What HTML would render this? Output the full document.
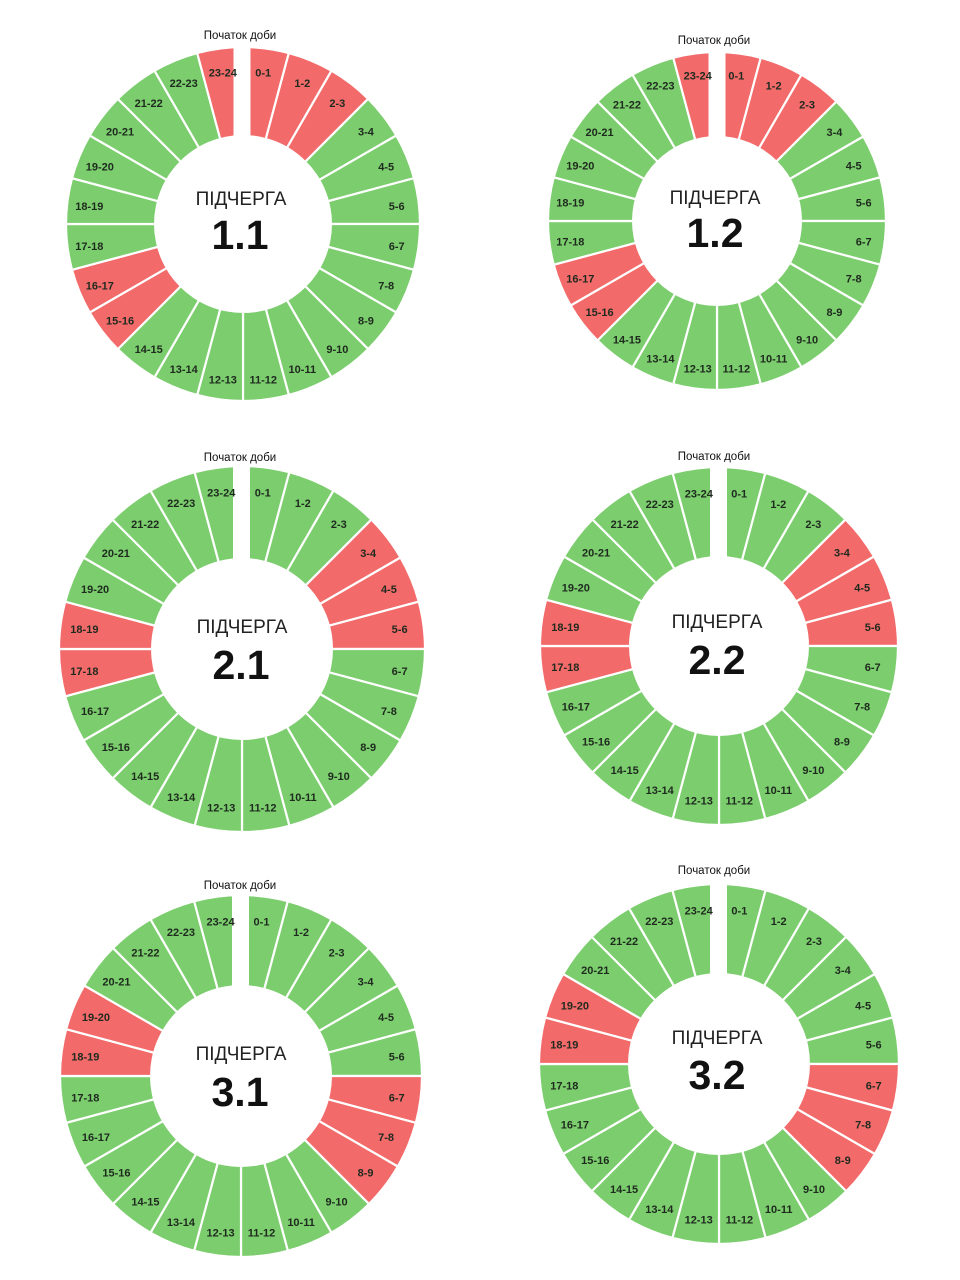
<!DOCTYPE html>
<html><head><meta charset="utf-8"><style>
html,body{margin:0;padding:0;background:#fff;width:960px;height:1280px;overflow:hidden}
svg{display:block}
.g{fill:#7bcd6d}.r{fill:#f26a6a}
use{stroke:#fff;stroke-width:2.2px}
.l{font-family:"Liberation Sans",sans-serif;font-size:11px;font-weight:bold;fill:#1f2a1f;text-anchor:middle;dominant-baseline:central}
.t{font-family:"Liberation Sans",sans-serif;font-size:11.5px;fill:#111;text-anchor:middle}
.p{font-family:"Liberation Sans",sans-serif;font-size:19px;fill:#222;text-anchor:middle}
.n{font-family:"Liberation Sans",sans-serif;font-size:41px;font-weight:bold;fill:#111;text-anchor:middle}
</style></head><body>
<svg width="960" height="1280" viewBox="0 0 960 1280" xmlns="http://www.w3.org/2000/svg">
<defs>
<path id="w" d="M0 0 L0 -1 A1 1 0 0 1 0.258819 -0.965926 Z" vector-effect="non-scaling-stroke"/>
</defs>

<!-- Chart 1.1 -->
<text class="t" x="240" y="39">Початок доби</text>
<g transform="translate(243,224)">
<g transform="scale(177)">
<use href="#w" class="r" transform="rotate(0)"/><use href="#w" class="r" transform="rotate(15)"/><use href="#w" class="r" transform="rotate(30)"/><use href="#w" class="g" transform="rotate(45)"/><use href="#w" class="g" transform="rotate(60)"/><use href="#w" class="g" transform="rotate(75)"/><use href="#w" class="g" transform="rotate(90)"/><use href="#w" class="g" transform="rotate(105)"/><use href="#w" class="g" transform="rotate(120)"/><use href="#w" class="g" transform="rotate(135)"/><use href="#w" class="g" transform="rotate(150)"/><use href="#w" class="g" transform="rotate(165)"/><use href="#w" class="g" transform="rotate(180)"/><use href="#w" class="g" transform="rotate(195)"/><use href="#w" class="g" transform="rotate(210)"/><use href="#w" class="r" transform="rotate(225)"/><use href="#w" class="r" transform="rotate(240)"/><use href="#w" class="g" transform="rotate(255)"/><use href="#w" class="g" transform="rotate(270)"/><use href="#w" class="g" transform="rotate(285)"/><use href="#w" class="g" transform="rotate(300)"/><use href="#w" class="g" transform="rotate(315)"/><use href="#w" class="g" transform="rotate(330)"/><use href="#w" class="r" transform="rotate(345)"/>
</g>
<circle r="89" fill="#fff"/><rect x="-9.5" y="-182" width="17" height="100" fill="#fff"/>
<g transform="translate(0,3)">
<text class="l" transform="rotate(7.5) translate(0,-155) rotate(-7.5)">0-1</text><text class="l" transform="rotate(22.5) translate(0,-155) rotate(-22.5)">1-2</text><text class="l" transform="rotate(37.5) translate(0,-155) rotate(-37.5)">2-3</text><text class="l" transform="rotate(52.5) translate(0,-155) rotate(-52.5)">3-4</text><text class="l" transform="rotate(67.5) translate(0,-155) rotate(-67.5)">4-5</text><text class="l" transform="rotate(82.5) translate(0,-155) rotate(-82.5)">5-6</text><text class="l" transform="rotate(97.5) translate(0,-155) rotate(-97.5)">6-7</text><text class="l" transform="rotate(112.5) translate(0,-155) rotate(-112.5)">7-8</text><text class="l" transform="rotate(127.5) translate(0,-155) rotate(-127.5)">8-9</text><text class="l" transform="rotate(142.5) translate(0,-155) rotate(-142.5)">9-10</text><text class="l" transform="rotate(157.5) translate(0,-155) rotate(-157.5)">10-11</text><text class="l" transform="rotate(172.5) translate(0,-155) rotate(-172.5)">11-12</text><text class="l" transform="rotate(187.5) translate(0,-155) rotate(-187.5)">12-13</text><text class="l" transform="rotate(202.5) translate(0,-155) rotate(-202.5)">13-14</text><text class="l" transform="rotate(217.5) translate(0,-155) rotate(-217.5)">14-15</text><text class="l" transform="rotate(232.5) translate(0,-155) rotate(-232.5)">15-16</text><text class="l" transform="rotate(247.5) translate(0,-155) rotate(-247.5)">16-17</text><text class="l" transform="rotate(262.5) translate(0,-155) rotate(-262.5)">17-18</text><text class="l" transform="rotate(277.5) translate(0,-155) rotate(-277.5)">18-19</text><text class="l" transform="rotate(292.5) translate(0,-155) rotate(-292.5)">19-20</text><text class="l" transform="rotate(307.5) translate(0,-155) rotate(-307.5)">20-21</text><text class="l" transform="rotate(322.5) translate(0,-155) rotate(-322.5)">21-22</text><text class="l" transform="rotate(337.5) translate(0,-155) rotate(-337.5)">22-23</text><text class="l" transform="rotate(352.5) translate(0,-155) rotate(-352.5)">23-24</text>
</g>
<text class="p" x="-2" y="-19">ПІДЧЕРГА</text><text class="n" x="-3" y="25">1.1</text>
</g>

<!-- Chart 1.2 -->
<text class="t" x="714" y="44">Початок доби</text>
<g transform="translate(717,221)">
<g transform="scale(169)">
<use href="#w" class="r" transform="rotate(0)"/><use href="#w" class="r" transform="rotate(15)"/><use href="#w" class="r" transform="rotate(30)"/><use href="#w" class="g" transform="rotate(45)"/><use href="#w" class="g" transform="rotate(60)"/><use href="#w" class="g" transform="rotate(75)"/><use href="#w" class="g" transform="rotate(90)"/><use href="#w" class="g" transform="rotate(105)"/><use href="#w" class="g" transform="rotate(120)"/><use href="#w" class="g" transform="rotate(135)"/><use href="#w" class="g" transform="rotate(150)"/><use href="#w" class="g" transform="rotate(165)"/><use href="#w" class="g" transform="rotate(180)"/><use href="#w" class="g" transform="rotate(195)"/><use href="#w" class="g" transform="rotate(210)"/><use href="#w" class="r" transform="rotate(225)"/><use href="#w" class="r" transform="rotate(240)"/><use href="#w" class="g" transform="rotate(255)"/><use href="#w" class="g" transform="rotate(270)"/><use href="#w" class="g" transform="rotate(285)"/><use href="#w" class="g" transform="rotate(300)"/><use href="#w" class="g" transform="rotate(315)"/><use href="#w" class="g" transform="rotate(330)"/><use href="#w" class="r" transform="rotate(345)"/>
</g>
<circle r="85" fill="#fff"/><rect x="-8.5" y="-175" width="17" height="95" fill="#fff"/>
<g transform="translate(0,2)">
<text class="l" transform="rotate(7.5) translate(0,-148) rotate(-7.5)">0-1</text><text class="l" transform="rotate(22.5) translate(0,-148) rotate(-22.5)">1-2</text><text class="l" transform="rotate(37.5) translate(0,-148) rotate(-37.5)">2-3</text><text class="l" transform="rotate(52.5) translate(0,-148) rotate(-52.5)">3-4</text><text class="l" transform="rotate(67.5) translate(0,-148) rotate(-67.5)">4-5</text><text class="l" transform="rotate(82.5) translate(0,-148) rotate(-82.5)">5-6</text><text class="l" transform="rotate(97.5) translate(0,-148) rotate(-97.5)">6-7</text><text class="l" transform="rotate(112.5) translate(0,-148) rotate(-112.5)">7-8</text><text class="l" transform="rotate(127.5) translate(0,-148) rotate(-127.5)">8-9</text><text class="l" transform="rotate(142.5) translate(0,-148) rotate(-142.5)">9-10</text><text class="l" transform="rotate(157.5) translate(0,-148) rotate(-157.5)">10-11</text><text class="l" transform="rotate(172.5) translate(0,-148) rotate(-172.5)">11-12</text><text class="l" transform="rotate(187.5) translate(0,-148) rotate(-187.5)">12-13</text><text class="l" transform="rotate(202.5) translate(0,-148) rotate(-202.5)">13-14</text><text class="l" transform="rotate(217.5) translate(0,-148) rotate(-217.5)">14-15</text><text class="l" transform="rotate(232.5) translate(0,-148) rotate(-232.5)">15-16</text><text class="l" transform="rotate(247.5) translate(0,-148) rotate(-247.5)">16-17</text><text class="l" transform="rotate(262.5) translate(0,-148) rotate(-262.5)">17-18</text><text class="l" transform="rotate(277.5) translate(0,-148) rotate(-277.5)">18-19</text><text class="l" transform="rotate(292.5) translate(0,-148) rotate(-292.5)">19-20</text><text class="l" transform="rotate(307.5) translate(0,-148) rotate(-307.5)">20-21</text><text class="l" transform="rotate(322.5) translate(0,-148) rotate(-322.5)">21-22</text><text class="l" transform="rotate(337.5) translate(0,-148) rotate(-337.5)">22-23</text><text class="l" transform="rotate(352.5) translate(0,-148) rotate(-352.5)">23-24</text>
</g>
<text class="p" x="-2" y="-17">ПІДЧЕРГА</text><text class="n" x="-2" y="26">1.2</text>
</g>

<!-- Chart 2.1 -->
<text class="t" x="240" y="461">Початок доби</text>
<g transform="translate(242,649)">
<g transform="scale(183)">
<use href="#w" class="g" transform="rotate(0)"/><use href="#w" class="g" transform="rotate(15)"/><use href="#w" class="g" transform="rotate(30)"/><use href="#w" class="r" transform="rotate(45)"/><use href="#w" class="r" transform="rotate(60)"/><use href="#w" class="r" transform="rotate(75)"/><use href="#w" class="g" transform="rotate(90)"/><use href="#w" class="g" transform="rotate(105)"/><use href="#w" class="g" transform="rotate(120)"/><use href="#w" class="g" transform="rotate(135)"/><use href="#w" class="g" transform="rotate(150)"/><use href="#w" class="g" transform="rotate(165)"/><use href="#w" class="g" transform="rotate(180)"/><use href="#w" class="g" transform="rotate(195)"/><use href="#w" class="g" transform="rotate(210)"/><use href="#w" class="g" transform="rotate(225)"/><use href="#w" class="g" transform="rotate(240)"/><use href="#w" class="r" transform="rotate(255)"/><use href="#w" class="r" transform="rotate(270)"/><use href="#w" class="g" transform="rotate(285)"/><use href="#w" class="g" transform="rotate(300)"/><use href="#w" class="g" transform="rotate(315)"/><use href="#w" class="g" transform="rotate(330)"/><use href="#w" class="g" transform="rotate(345)"/>
</g>
<circle r="91" fill="#fff"/><rect x="-9" y="-188" width="17" height="100" fill="#fff"/>
<g transform="translate(0,2)">
<text class="l" transform="rotate(7.5) translate(0,-159) rotate(-7.5)">0-1</text><text class="l" transform="rotate(22.5) translate(0,-159) rotate(-22.5)">1-2</text><text class="l" transform="rotate(37.5) translate(0,-159) rotate(-37.5)">2-3</text><text class="l" transform="rotate(52.5) translate(0,-159) rotate(-52.5)">3-4</text><text class="l" transform="rotate(67.5) translate(0,-159) rotate(-67.5)">4-5</text><text class="l" transform="rotate(82.5) translate(0,-159) rotate(-82.5)">5-6</text><text class="l" transform="rotate(97.5) translate(0,-159) rotate(-97.5)">6-7</text><text class="l" transform="rotate(112.5) translate(0,-159) rotate(-112.5)">7-8</text><text class="l" transform="rotate(127.5) translate(0,-159) rotate(-127.5)">8-9</text><text class="l" transform="rotate(142.5) translate(0,-159) rotate(-142.5)">9-10</text><text class="l" transform="rotate(157.5) translate(0,-159) rotate(-157.5)">10-11</text><text class="l" transform="rotate(172.5) translate(0,-159) rotate(-172.5)">11-12</text><text class="l" transform="rotate(187.5) translate(0,-159) rotate(-187.5)">12-13</text><text class="l" transform="rotate(202.5) translate(0,-159) rotate(-202.5)">13-14</text><text class="l" transform="rotate(217.5) translate(0,-159) rotate(-217.5)">14-15</text><text class="l" transform="rotate(232.5) translate(0,-159) rotate(-232.5)">15-16</text><text class="l" transform="rotate(247.5) translate(0,-159) rotate(-247.5)">16-17</text><text class="l" transform="rotate(262.5) translate(0,-159) rotate(-262.5)">17-18</text><text class="l" transform="rotate(277.5) translate(0,-159) rotate(-277.5)">18-19</text><text class="l" transform="rotate(292.5) translate(0,-159) rotate(-292.5)">19-20</text><text class="l" transform="rotate(307.5) translate(0,-159) rotate(-307.5)">20-21</text><text class="l" transform="rotate(322.5) translate(0,-159) rotate(-322.5)">21-22</text><text class="l" transform="rotate(337.5) translate(0,-159) rotate(-337.5)">22-23</text><text class="l" transform="rotate(352.5) translate(0,-159) rotate(-352.5)">23-24</text>
</g>
<text class="p" x="0" y="-16">ПІДЧЕРГА</text><text class="n" x="-1" y="30">2.1</text>
</g>

<!-- Chart 2.2 -->
<text class="t" x="714" y="460">Початок доби</text>
<g transform="translate(719,646)">
<g transform="scale(179)">
<use href="#w" class="g" transform="rotate(0)"/><use href="#w" class="g" transform="rotate(15)"/><use href="#w" class="g" transform="rotate(30)"/><use href="#w" class="r" transform="rotate(45)"/><use href="#w" class="r" transform="rotate(60)"/><use href="#w" class="r" transform="rotate(75)"/><use href="#w" class="g" transform="rotate(90)"/><use href="#w" class="g" transform="rotate(105)"/><use href="#w" class="g" transform="rotate(120)"/><use href="#w" class="g" transform="rotate(135)"/><use href="#w" class="g" transform="rotate(150)"/><use href="#w" class="g" transform="rotate(165)"/><use href="#w" class="g" transform="rotate(180)"/><use href="#w" class="g" transform="rotate(195)"/><use href="#w" class="g" transform="rotate(210)"/><use href="#w" class="g" transform="rotate(225)"/><use href="#w" class="g" transform="rotate(240)"/><use href="#w" class="r" transform="rotate(255)"/><use href="#w" class="r" transform="rotate(270)"/><use href="#w" class="g" transform="rotate(285)"/><use href="#w" class="g" transform="rotate(300)"/><use href="#w" class="g" transform="rotate(315)"/><use href="#w" class="g" transform="rotate(330)"/><use href="#w" class="g" transform="rotate(345)"/>
</g>
<circle r="90" fill="#fff"/><rect x="-9" y="-184" width="17" height="100" fill="#fff"/>
<g transform="translate(0,2)">
<text class="l" transform="rotate(7.5) translate(0,-155) rotate(-7.5)">0-1</text><text class="l" transform="rotate(22.5) translate(0,-155) rotate(-22.5)">1-2</text><text class="l" transform="rotate(37.5) translate(0,-155) rotate(-37.5)">2-3</text><text class="l" transform="rotate(52.5) translate(0,-155) rotate(-52.5)">3-4</text><text class="l" transform="rotate(67.5) translate(0,-155) rotate(-67.5)">4-5</text><text class="l" transform="rotate(82.5) translate(0,-155) rotate(-82.5)">5-6</text><text class="l" transform="rotate(97.5) translate(0,-155) rotate(-97.5)">6-7</text><text class="l" transform="rotate(112.5) translate(0,-155) rotate(-112.5)">7-8</text><text class="l" transform="rotate(127.5) translate(0,-155) rotate(-127.5)">8-9</text><text class="l" transform="rotate(142.5) translate(0,-155) rotate(-142.5)">9-10</text><text class="l" transform="rotate(157.5) translate(0,-155) rotate(-157.5)">10-11</text><text class="l" transform="rotate(172.5) translate(0,-155) rotate(-172.5)">11-12</text><text class="l" transform="rotate(187.5) translate(0,-155) rotate(-187.5)">12-13</text><text class="l" transform="rotate(202.5) translate(0,-155) rotate(-202.5)">13-14</text><text class="l" transform="rotate(217.5) translate(0,-155) rotate(-217.5)">14-15</text><text class="l" transform="rotate(232.5) translate(0,-155) rotate(-232.5)">15-16</text><text class="l" transform="rotate(247.5) translate(0,-155) rotate(-247.5)">16-17</text><text class="l" transform="rotate(262.5) translate(0,-155) rotate(-262.5)">17-18</text><text class="l" transform="rotate(277.5) translate(0,-155) rotate(-277.5)">18-19</text><text class="l" transform="rotate(292.5) translate(0,-155) rotate(-292.5)">19-20</text><text class="l" transform="rotate(307.5) translate(0,-155) rotate(-307.5)">20-21</text><text class="l" transform="rotate(322.5) translate(0,-155) rotate(-322.5)">21-22</text><text class="l" transform="rotate(337.5) translate(0,-155) rotate(-337.5)">22-23</text><text class="l" transform="rotate(352.5) translate(0,-155) rotate(-352.5)">23-24</text>
</g>
<text class="p" x="-2" y="-18">ПІДЧЕРГА</text><text class="n" x="-2" y="28">2.2</text>
</g>

<!-- Chart 3.1 -->
<text class="t" x="240" y="889">Початок доби</text>
<g transform="translate(241,1076)">
<g transform="scale(181)">
<use href="#w" class="g" transform="rotate(0)"/><use href="#w" class="g" transform="rotate(15)"/><use href="#w" class="g" transform="rotate(30)"/><use href="#w" class="g" transform="rotate(45)"/><use href="#w" class="g" transform="rotate(60)"/><use href="#w" class="g" transform="rotate(75)"/><use href="#w" class="r" transform="rotate(90)"/><use href="#w" class="r" transform="rotate(105)"/><use href="#w" class="r" transform="rotate(120)"/><use href="#w" class="g" transform="rotate(135)"/><use href="#w" class="g" transform="rotate(150)"/><use href="#w" class="g" transform="rotate(165)"/><use href="#w" class="g" transform="rotate(180)"/><use href="#w" class="g" transform="rotate(195)"/><use href="#w" class="g" transform="rotate(210)"/><use href="#w" class="g" transform="rotate(225)"/><use href="#w" class="g" transform="rotate(240)"/><use href="#w" class="g" transform="rotate(255)"/><use href="#w" class="r" transform="rotate(270)"/><use href="#w" class="r" transform="rotate(285)"/><use href="#w" class="g" transform="rotate(300)"/><use href="#w" class="g" transform="rotate(315)"/><use href="#w" class="g" transform="rotate(330)"/><use href="#w" class="g" transform="rotate(345)"/>
</g>
<circle r="91" fill="#fff"/><rect x="-9" y="-186" width="17" height="100" fill="#fff"/>
<g transform="translate(0,2)">
<text class="l" transform="rotate(7.5) translate(0,-157) rotate(-7.5)">0-1</text><text class="l" transform="rotate(22.5) translate(0,-157) rotate(-22.5)">1-2</text><text class="l" transform="rotate(37.5) translate(0,-157) rotate(-37.5)">2-3</text><text class="l" transform="rotate(52.5) translate(0,-157) rotate(-52.5)">3-4</text><text class="l" transform="rotate(67.5) translate(0,-157) rotate(-67.5)">4-5</text><text class="l" transform="rotate(82.5) translate(0,-157) rotate(-82.5)">5-6</text><text class="l" transform="rotate(97.5) translate(0,-157) rotate(-97.5)">6-7</text><text class="l" transform="rotate(112.5) translate(0,-157) rotate(-112.5)">7-8</text><text class="l" transform="rotate(127.5) translate(0,-157) rotate(-127.5)">8-9</text><text class="l" transform="rotate(142.5) translate(0,-157) rotate(-142.5)">9-10</text><text class="l" transform="rotate(157.5) translate(0,-157) rotate(-157.5)">10-11</text><text class="l" transform="rotate(172.5) translate(0,-157) rotate(-172.5)">11-12</text><text class="l" transform="rotate(187.5) translate(0,-157) rotate(-187.5)">12-13</text><text class="l" transform="rotate(202.5) translate(0,-157) rotate(-202.5)">13-14</text><text class="l" transform="rotate(217.5) translate(0,-157) rotate(-217.5)">14-15</text><text class="l" transform="rotate(232.5) translate(0,-157) rotate(-232.5)">15-16</text><text class="l" transform="rotate(247.5) translate(0,-157) rotate(-247.5)">16-17</text><text class="l" transform="rotate(262.5) translate(0,-157) rotate(-262.5)">17-18</text><text class="l" transform="rotate(277.5) translate(0,-157) rotate(-277.5)">18-19</text><text class="l" transform="rotate(292.5) translate(0,-157) rotate(-292.5)">19-20</text><text class="l" transform="rotate(307.5) translate(0,-157) rotate(-307.5)">20-21</text><text class="l" transform="rotate(322.5) translate(0,-157) rotate(-322.5)">21-22</text><text class="l" transform="rotate(337.5) translate(0,-157) rotate(-337.5)">22-23</text><text class="l" transform="rotate(352.5) translate(0,-157) rotate(-352.5)">23-24</text>
</g>
<text class="p" x="0" y="-16">ПІДЧЕРГА</text><text class="n" x="-1" y="30">3.1</text>
</g>

<!-- Chart 3.2 -->
<text class="t" x="714" y="874">Початок доби</text>
<g transform="translate(719,1064)">
<g transform="scale(180)">
<use href="#w" class="g" transform="rotate(0)"/><use href="#w" class="g" transform="rotate(15)"/><use href="#w" class="g" transform="rotate(30)"/><use href="#w" class="g" transform="rotate(45)"/><use href="#w" class="g" transform="rotate(60)"/><use href="#w" class="g" transform="rotate(75)"/><use href="#w" class="r" transform="rotate(90)"/><use href="#w" class="r" transform="rotate(105)"/><use href="#w" class="r" transform="rotate(120)"/><use href="#w" class="g" transform="rotate(135)"/><use href="#w" class="g" transform="rotate(150)"/><use href="#w" class="g" transform="rotate(165)"/><use href="#w" class="g" transform="rotate(180)"/><use href="#w" class="g" transform="rotate(195)"/><use href="#w" class="g" transform="rotate(210)"/><use href="#w" class="g" transform="rotate(225)"/><use href="#w" class="g" transform="rotate(240)"/><use href="#w" class="g" transform="rotate(255)"/><use href="#w" class="r" transform="rotate(270)"/><use href="#w" class="r" transform="rotate(285)"/><use href="#w" class="g" transform="rotate(300)"/><use href="#w" class="g" transform="rotate(315)"/><use href="#w" class="g" transform="rotate(330)"/><use href="#w" class="g" transform="rotate(345)"/>
</g>
<circle r="91" fill="#fff"/><rect x="-9" y="-185" width="17" height="100" fill="#fff"/>
<g transform="translate(0,2)">
<text class="l" transform="rotate(7.5) translate(0,-156) rotate(-7.5)">0-1</text><text class="l" transform="rotate(22.5) translate(0,-156) rotate(-22.5)">1-2</text><text class="l" transform="rotate(37.5) translate(0,-156) rotate(-37.5)">2-3</text><text class="l" transform="rotate(52.5) translate(0,-156) rotate(-52.5)">3-4</text><text class="l" transform="rotate(67.5) translate(0,-156) rotate(-67.5)">4-5</text><text class="l" transform="rotate(82.5) translate(0,-156) rotate(-82.5)">5-6</text><text class="l" transform="rotate(97.5) translate(0,-156) rotate(-97.5)">6-7</text><text class="l" transform="rotate(112.5) translate(0,-156) rotate(-112.5)">7-8</text><text class="l" transform="rotate(127.5) translate(0,-156) rotate(-127.5)">8-9</text><text class="l" transform="rotate(142.5) translate(0,-156) rotate(-142.5)">9-10</text><text class="l" transform="rotate(157.5) translate(0,-156) rotate(-157.5)">10-11</text><text class="l" transform="rotate(172.5) translate(0,-156) rotate(-172.5)">11-12</text><text class="l" transform="rotate(187.5) translate(0,-156) rotate(-187.5)">12-13</text><text class="l" transform="rotate(202.5) translate(0,-156) rotate(-202.5)">13-14</text><text class="l" transform="rotate(217.5) translate(0,-156) rotate(-217.5)">14-15</text><text class="l" transform="rotate(232.5) translate(0,-156) rotate(-232.5)">15-16</text><text class="l" transform="rotate(247.5) translate(0,-156) rotate(-247.5)">16-17</text><text class="l" transform="rotate(262.5) translate(0,-156) rotate(-262.5)">17-18</text><text class="l" transform="rotate(277.5) translate(0,-156) rotate(-277.5)">18-19</text><text class="l" transform="rotate(292.5) translate(0,-156) rotate(-292.5)">19-20</text><text class="l" transform="rotate(307.5) translate(0,-156) rotate(-307.5)">20-21</text><text class="l" transform="rotate(322.5) translate(0,-156) rotate(-322.5)">21-22</text><text class="l" transform="rotate(337.5) translate(0,-156) rotate(-337.5)">22-23</text><text class="l" transform="rotate(352.5) translate(0,-156) rotate(-352.5)">23-24</text>
</g>
<text class="p" x="-2" y="-20">ПІДЧЕРГА</text><text class="n" x="-2" y="25">3.2</text>
</g>
</svg>
</body></html>
